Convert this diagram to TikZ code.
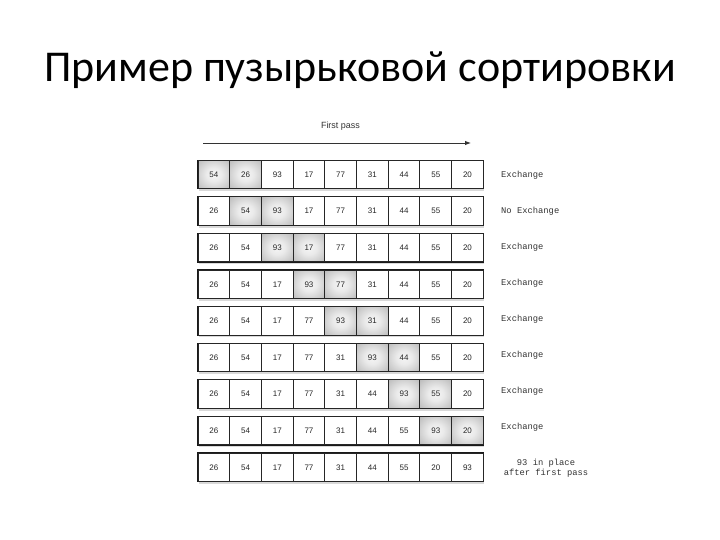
\documentclass[tikz,border=0pt]{standalone}
\usepackage{fontspec}
\setmainfont{Carlito}
\newfontfamily\cellfont{Liberation Sans}
\newfontfamily\monofont{Liberation Mono}
\usetikzlibrary{shadows,arrows.meta}
\pgfdeclareradialshading{softglow}{\pgfpoint{0bp}{0bp}}{color(0bp)=(black!4); color(12bp)=(black!8); color(40bp)=(black!30); color(55bp)=(black!40); color(80bp)=(black!45)}
\begin{document}
\begin{tikzpicture}[x=1pt,y=-1pt,
  cellbox/.style={draw=black!85,line width=1pt,minimum width=31.7pt,minimum height=28.5pt,inner sep=0pt,font=\cellfont\fontsize{8}{9}\selectfont,text=black!85},
  hicell/.style={cellbox,shading=softglow},
  rowbox/.style={draw=black!90,line width=1.2pt,fill=white,minimum width=285.3pt,minimum height=28.5pt,inner sep=0pt,drop shadow={opacity=0.3,shadow xshift=0.6pt,shadow yshift=-2.2pt}},
  lbl/.style={anchor=west,font=\monofont\fontsize{8.8}{10}\selectfont,text=black!80,inner sep=0pt},
  title/.style={font=\fontsize{44}{50}\selectfont,anchor=base,inner sep=0pt}]
\useasboundingbox (0,0) rectangle (720,540);
\node[title] (t) at (360,82) {Пример пузырьковой сортировки};
\node[font=\cellfont\fontsize{9}{10}\selectfont,text=black!80] (fp) at (340.5,126.5) {First pass};
\coordinate (a1) at (203,143);
\coordinate (a2) at (471,143);
\draw[line width=0.9pt,black!80,-{Latex[length=6pt,width=4.5pt]}] (a1) -- (a2);
\foreach \r/\vals/\hi in {
  1/{54,26,93,17,77,31,44,55,20}/1,
  2/{26,54,93,17,77,31,44,55,20}/2,
  3/{26,54,93,17,77,31,44,55,20}/3,
  4/{26,54,17,93,77,31,44,55,20}/4,
  5/{26,54,17,77,93,31,44,55,20}/5,
  6/{26,54,17,77,31,93,44,55,20}/6,
  7/{26,54,17,77,31,44,93,55,20}/7,
  8/{26,54,17,77,31,44,55,93,20}/8,
  9/{26,54,17,77,31,44,55,20,93}/0} {
  \pgfmathsetmacro{\yy}{174.5+36.6*(\r-1)}
  \node[rowbox] (row\r) at (340.65,\yy) {};
  \foreach \v [count=\i] in \vals {
    \pgfmathsetmacro{\xx}{198+31.7*(\i-0.5)}
    \pgfmathtruncatemacro{\isA}{(\i==\hi) || (\i==\hi+1)}
    \ifnum\hi>0
      \ifnum\isA=1
        \node[hicell] (c\r-\i) at (\xx,\yy) {\v};
      \else
        \node[cellbox] (c\r-\i) at (\xx,\yy) {\v};
      \fi
    \else
      \node[cellbox] (c\r-\i) at (\xx,\yy) {\v};
    \fi
  }
}
\node[lbl] (l1) at (501,175) {Exchange};
\node[lbl] (l2) at (501,211.5) {No Exchange};
\node[lbl] (l3) at (501,247.5) {Exchange};
\node[lbl] (l4) at (501,283.5) {Exchange};
\node[lbl] (l5) at (501,319.5) {Exchange};
\node[lbl] (l6) at (501,355.5) {Exchange};
\node[lbl] (l7) at (501,391.5) {Exchange};
\node[lbl] (l8) at (501,427.5) {Exchange};
\node[font=\monofont\fontsize{8.8}{10}\selectfont,text=black!80,align=center,inner sep=0pt] (l9) at (546,468.5) {93 in place\\after first pass};
\end{tikzpicture}
\end{document}
